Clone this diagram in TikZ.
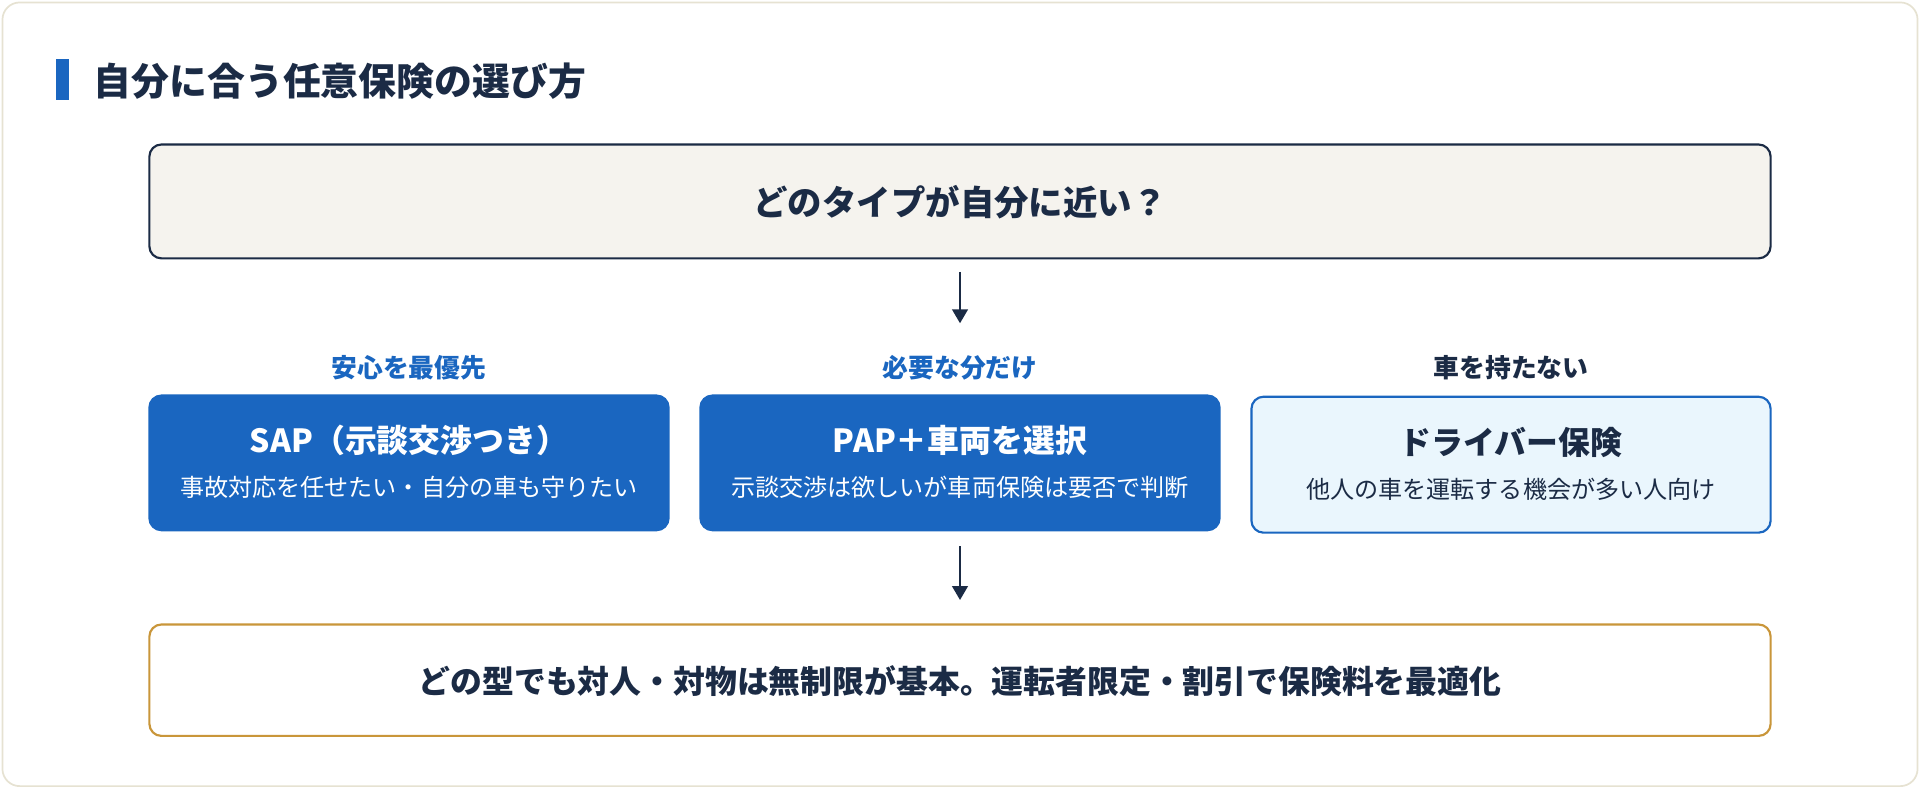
\documentclass[tikz,border=0pt]{standalone}
\usepackage{fontspec}
\setmainfont{Noto Sans CJK JP}
\usetikzlibrary{arrows.meta}
\definecolor{navy}{HTML}{1B2B45}
\definecolor{blu}{HTML}{1A66C0}
\definecolor{gold}{HTML}{C9963A}
\definecolor{beige}{HTML}{F5F3EE}
\definecolor{pale}{HTML}{EAF6FD}
\definecolor{cardline}{HTML}{E6E2D2}
\begin{document}
\begin{tikzpicture}[x=0.05cm,y=-0.05cm,
  box/.style={rounded corners=14pt,line width=2.5pt},
  arr/.style={draw=navy,line width=2.5pt,-{Triangle[length=16pt,width=18pt]}},
  lab/.style={font=\fontsize{30}{34}\selectfont\bfseries},
  btitle/.style={font=\fontsize{37}{42}\selectfont\bfseries},
  bsub/.style={font=\fontsize{28}{32}\selectfont}]
\useasboundingbox (0,0) rectangle (1568,644);
\draw[cardline,line width=2pt,fill=white,rounded corners=20pt] (2,2) rectangle (1566,642);
\fill[blu] (46,48) rectangle (56,82);
\node[anchor=west,text=navy,font=\fontsize{44}{48}\selectfont\bfseries] (title) at (74,66) {自分に合う任意保険の選び方};
\draw[box,draw=navy,fill=beige] (122,118) rectangle (1446,211);
\node[text=navy,font=\fontsize{40}{44}\selectfont\bfseries] (q) at (784,165) {どのタイプが自分に近い？};
\coordinate (a1s) at (784,222); \coordinate (a1e) at (784,264);
\draw[arr] (a1s) -- (a1e);
\node[lab,text=blu] (l1) at (334,300) {安心を最優先};
\node[lab,text=blu] (l2) at (784,300) {必要な分だけ};
\node[lab,text=navy] (l3) at (1234,300) {車を持たない};
\draw[box,draw=blu,fill=blu] (122,323) rectangle (546,433);
\draw[box,draw=blu,fill=blu] (572,323) rectangle (996,433);
\draw[box,draw=blu,fill=pale] (1022,324) rectangle (1446,435);
\node[btitle,text=white] (t1) at (334,360) {SAP（示談交渉つき）};
\node[bsub,text=white] (s1) at (334,398) {事故対応を任せたい・自分の車も守りたい};
\node[btitle,text=white] (t2) at (784,360) {PAP＋車両を選択};
\node[bsub,text=white] (s2) at (784,398) {示談交渉は欲しいが車両保険は要否で判断};
\node[btitle,text=navy] (t3) at (1234,361) {ドライバー保険};
\node[bsub,text=navy] (s3) at (1234,400) {他人の車を運転する機会が多い人向け};
\coordinate (a2s) at (784,446); \coordinate (a2e) at (784,490);
\draw[arr] (a2s) -- (a2e);
\draw[box,draw=gold,fill=white] (122,510) rectangle (1446,601);
\node[text=navy,font=\fontsize{37}{42}\selectfont\bfseries] (b) at (784,556) {どの型でも対人・対物は無制限が基本。運転者限定・割引で保険料を最適化};
\end{tikzpicture}
\end{document}
